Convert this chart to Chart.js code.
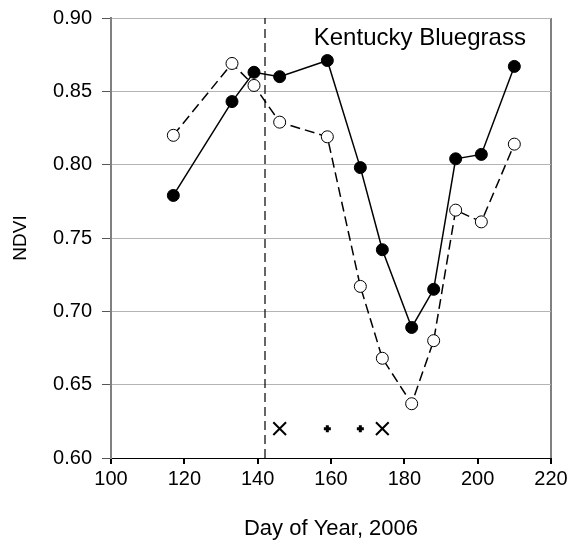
<!DOCTYPE html>
<html>
<head>
<meta charset="utf-8">
<script src="https://cdn.jsdelivr.net/npm/chart.js@4"></script>
<style>
  html, body { margin: 0; padding: 0; background: #fff; }
</style>
</head>
<body>
<canvas id="ndviChart" width="576" height="550"></canvas>
<script>
// Day of year for each sampling date
const days = [117, 133, 139, 146, 159, 168, 174, 182, 188, 194, 201, 210];
// filled circles, solid line
const ndviFilled = [0.779, 0.843, 0.863, 0.860, 0.871, 0.798, 0.742, 0.689, 0.715, 0.804, 0.807, 0.867];
// open circles, dashed line
const ndviOpen = [0.820, 0.869, 0.854, 0.829, 0.819, 0.717, 0.668, 0.637, 0.680, 0.769, 0.761, 0.814];
// event markers along the bottom
const crossDays = [146, 174];
const plusDays = [159, 168];
const eventLevel = 0.62;
const markerDay = 142;
const xTicks = [100, 120, 140, 160, 180, 200, 220];
const yTicks = [0.60, 0.65, 0.70, 0.75, 0.80, 0.85, 0.90];
const siteName = 'Kentucky Bluegrass';

const FONT = '"Liberation Sans", Arial, sans-serif';
Chart.defaults.font.family = FONT;
Chart.defaults.color = '#000';

const pts = (xs, ys) => xs.map((d, i) => ({ x: d, y: ys[i] }));

const siteLabel = {
    id: 'siteLabel',
    afterDatasetsDraw(chart) {
        const { ctx, scales: { x, y } } = chart;
        ctx.save();
        ctx.font = '24px ' + FONT;
        ctx.fillStyle = '#000';
        ctx.textBaseline = 'alphabetic';
        ctx.textAlign = 'left';
        ctx.fillText(siteName, x.getPixelForValue(155.3), y.getPixelForValue(0.8818));
        ctx.restore();
    }
};

new Chart(document.getElementById('ndviChart'), {
    type: 'scatter',
    data: {
        datasets: [
            {
                label: 'marker',
                data: [{ x: markerDay, y: yTicks[0] }, { x: markerDay, y: yTicks[yTicks.length - 1] }],
                showLine: true,
                borderColor: '#000',
                borderWidth: 1.2,
                borderDash: [9, 5],
                pointRadius: 0
            },
            {
                label: 'filled',
                data: pts(days, ndviFilled),
                showLine: true,
                borderColor: '#000',
                borderWidth: 1.5,
                pointRadius: 6,
                pointBackgroundColor: '#000',
                pointBorderColor: '#000',
                pointBorderWidth: 1
            },
            {
                label: 'open',
                data: pts(days, ndviOpen),
                showLine: true,
                borderColor: '#000',
                borderWidth: 1.5,
                borderDash: [10, 5],
                pointRadius: 6,
                pointBackgroundColor: '#fff',
                pointBorderColor: '#000',
                pointBorderWidth: 1
            },
            {
                label: 'cross',
                data: crossDays.map(d => ({ x: d, y: eventLevel })),
                pointStyle: 'crossRot',
                pointRadius: 9,
                borderColor: '#000',
                pointBorderWidth: 2
            },
            {
                label: 'plus',
                data: plusDays.map(d => ({ x: d, y: eventLevel })),
                pointStyle: 'cross',
                pointRadius: 3.5,
                borderColor: '#000',
                pointBorderWidth: 3
            }
        ]
    },
    options: {
        responsive: false,
        animation: false,
        devicePixelRatio: 1,
        layout: { padding: { top: 18, right: 25, left: 0, bottom: 0 } },
        plugins: {
            legend: { display: false },
            tooltip: { enabled: false }
        },
        scales: {
            x: {
                type: 'linear',
                min: 100,
                max: 220,
                afterBuildTicks: s => { s.ticks = xTicks.map(v => ({ value: v })); },
                afterFit: s => { s.height = 92; },
                ticks: { font: { size: 20 }, padding: 3, color: '#000' },
                grid: {
                    drawOnChartArea: true,
                    color: c => (c.tick && c.tick.value === 220 ? '#808080' : 'rgba(0,0,0,0)'),
                    lineWidth: 2,
                    tickColor: '#000',
                    tickLength: 6
                },
                border: { color: '#000', width: 1 },
                title: {
                    display: true,
                    text: 'Day of Year, 2006',
                    font: { size: 22 },
                    padding: { top: 0, bottom: 8 }
                }
            },
            y: {
                min: 0.6,
                max: 0.9,
                afterBuildTicks: s => { s.ticks = yTicks.map(v => ({ value: v })); },
                afterFit: s => { s.width = 111; s.paddingTop = 0; s.paddingBottom = 0; },
                ticks: {
                    font: { size: 20 },
                    padding: 10,
                    color: '#000',
                    callback: v => v.toFixed(2)
                },
                grid: {
                    color: '#b4b4b4',
                    lineWidth: 1,
                    tickColor: '#555',
                    tickLength: 9
                },
                border: { color: '#808080', width: 2 },
                title: {
                    display: true,
                    text: 'NDVI',
                    font: { size: 19 },
                    padding: { top: 9, bottom: 0 }
                }
            }
        }
    },
    plugins: [siteLabel]
});
</script>
</body>
</html>
